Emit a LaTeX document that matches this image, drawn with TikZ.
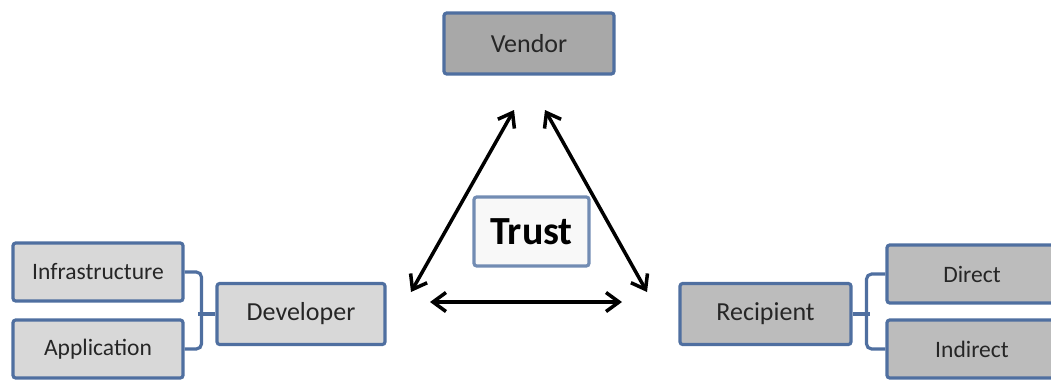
\documentclass[tikz,border=0pt]{standalone}
\usepackage{fontspec}
\setmainfont{Carlito}
\usetikzlibrary{arrows.meta}
\definecolor{boxline}{HTML}{4F6FA0}
\definecolor{darkfill}{HTML}{A8A8A8}
\definecolor{midfill}{HTML}{BCBCBC}
\definecolor{lightfill}{HTML}{D8D8D8}
\definecolor{trustfill}{HTML}{F8F8F8}
\definecolor{textgray}{HTML}{262626}
\tikzset{
  box/.style={draw=boxline,line width=1.8pt,rounded corners=1.5pt,text=textgray,minimum width=3.4cm,minimum height=1.22cm,font=\fontsize{14.8}{16}\selectfont},
  subbox/.style={box,minimum height=1.16cm,font=\fontsize{13.4}{15}\selectfont},
  link/.style={draw=boxline,line width=1.8pt,rounded corners=3pt},
  trustarrow/.style={line width=2pt,{Straight Barb[length=2.6mm,width=3.8mm]}-{Straight Barb[length=2.6mm,width=3.8mm]}}
}
\begin{document}
\begin{tikzpicture}[x=0.02cm,y=-0.02cm]
  \useasboundingbox (0,0) rectangle (1051,380);
  %top
  \node[box,fill=darkfill] (vendor) at (529,43.5) {Vendor};
  %middle
  \node[box,fill=trustfill,draw=boxline!80,minimum width=2.3cm,minimum height=1.38cm,font=\fontsize{22.7}{24}\selectfont\bfseries,text=black] (trust) at (531.5,231.5) {Trust};
  %left
  \node[box,fill=lightfill,minimum width=3.36cm] (developer) at (301,314) {Developer};
  \node[subbox,fill=lightfill] (infra) at (98,272) {Infrastructure};
  \node[subbox,fill=lightfill] (app) at (98,349) {Application};
  \draw[link] (infra.east) -- ++(17,0) |- (app.east);
  \draw[link] (developer.west) -- ++(-17,0);
  %right
  \node[box,fill=midfill,minimum width=3.42cm] (recipient) at (765.5,314) {Recipient};
  \node[subbox,fill=midfill] (direct) at (972,274) {Direct};
  \node[subbox,fill=midfill] (indirect) at (972,349) {Indirect};
  \draw[link] (direct.west) -- ++(-19,0) |- (indirect.west);
  \draw[link] (recipient.east) -- ++(17,0);
  %arrows
  \coordinate (devtop) at (411,292);
  \coordinate (devright) at (430,302);
  \coordinate (venleft) at (514,110);
  \coordinate (venright) at (545,110);
  \coordinate (rectop) at (647,292);
  \coordinate (recleft) at (622,302);
  \draw[trustarrow] (devtop) -- (venleft);
  \draw[trustarrow] (venright) -- (rectop);
  \draw[trustarrow] (devright) -- (recleft);
\end{tikzpicture}
\end{document}
